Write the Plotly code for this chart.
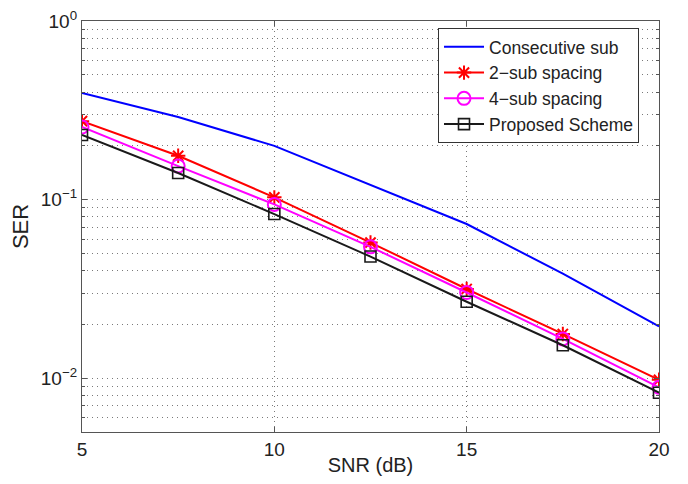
import plotly.graph_objects as go

snr = [5, 7.5, 10, 12.5, 15, 17.5, 20]
consecutive = [0.395, 0.290, 0.200, 0.121, 0.073, 0.0385, 0.0195]
sub2 = [0.275, 0.176, 0.103, 0.0575, 0.0316, 0.0177, 0.0098]
sub4 = [0.255, 0.154, 0.094, 0.0544, 0.0302, 0.0166, 0.0089]
proposed = [0.230, 0.141, 0.083, 0.048, 0.0268, 0.0153, 0.0083]

names = ["Consecutive sub", "2\u2212sub spacing", "4\u2212sub spacing", "Proposed Scheme"]
x_ticks = [5, 10, 15, 20]
y_ticks = [0.01, 0.1, 1]
y_ticktext = ["10<sup>\u22122</sup>", "10<sup>\u22121</sup>", "10<sup>0</sup>"]
y_minor = [m * 10 ** e for e in (-3, -2, -1) for m in range(2, 10) if m * 10 ** e >= 0.005]

FONT = "Liberation Sans, Arial, Helvetica"
GRID = "#7a7a7a"
DOTS = "1px,4px"

fig = go.Figure()
fig.add_trace(go.Scatter(x=snr, y=consecutive, name=names[0], mode="lines",
                         line=dict(color="#0000ff", width=2)))
fig.add_trace(go.Scatter(x=snr, y=sub2, name=names[1], mode="lines+markers",
                         line=dict(color="#ff0000", width=2),
                         marker=dict(symbol="asterisk-open", size=12,
                                     line=dict(color="#ff0000", width=2))))
fig.add_trace(go.Scatter(x=snr, y=sub4, name=names[2], mode="lines+markers",
                         line=dict(color="#ff00ff", width=2),
                         marker=dict(symbol="circle-open", size=13,
                                     line=dict(color="#ff00ff", width=2))))
fig.add_trace(go.Scatter(x=snr, y=proposed, name=names[3], mode="lines+markers",
                         line=dict(color="#1a1a1a", width=2),
                         marker=dict(symbol="square-open", size=11,
                                     line=dict(color="#1a1a1a", width=1.6))))

axis_common = dict(showline=True, linecolor="#555555", linewidth=1.2, mirror="ticks",
                   ticks="inside", ticklen=5, tickcolor="#555555", automargin=False,
                   ticklabeloverflow="allow",
                   showgrid=True, gridcolor=GRID, griddash=DOTS, gridwidth=1,
                   zeroline=False, tickfont=dict(family=FONT, size=19, color="#222"))

fig.update_xaxes(range=[5, 20], tickvals=x_ticks, ticktext=[str(v) for v in x_ticks],
                 title=dict(text="SNR (dB)", font=dict(family=FONT, size=20, color="#222"),
                            standoff=0),
                 **axis_common)
fig.update_yaxes(type="log", range=[-2.301, 0], tickvals=y_ticks, ticktext=y_ticktext,
                 title=dict(text="SER", font=dict(family=FONT, size=22, color="#222"),
                            standoff=12),
                 minor=dict(tickvals=y_minor, showgrid=True, gridcolor=GRID, griddash=DOTS,
                            ticks="inside", ticklen=3, tickcolor="#555555"),
                 **axis_common)

# page body has an 8px default margin, so the figure is sized/offset to compensate
fig.update_layout(
    width=672, height=468,
    margin=dict(l=74, r=21, t=13, b=44),
    paper_bgcolor="white", plot_bgcolor="white",
    font=dict(family=FONT, color="#222"),
    legend=dict(x=0.617, y=0.983, xanchor="left", yanchor="top",
                bgcolor="white", bordercolor="#333333", borderwidth=1,
                font=dict(family=FONT, size=17.5, color="#222"),
                tracegroupgap=0, itemwidth=40),
    showlegend=True,
)

fig.write_html("out.html")
